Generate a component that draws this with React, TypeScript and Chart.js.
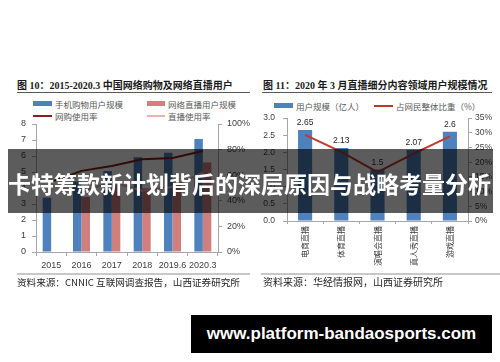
import React, { useEffect, useRef } from 'react';
import { Chart, registerables } from 'chart.js';

Chart.register(...registerables);

// ---------- Data: left chart ----------
const leftCategories = ['2015', '2016', '2017', '2018', '2019.6', '2020.3'];
const mobileShoppingUsers = [3.4, 4.41, 5.06, 5.92, 6.21, 7.07];
const liveStreamUsers = [null, 3.44, 4.22, 3.97, 4.33, 5.6];
const shoppingRate = [54.8, 63.4, 67.2, 72.5, 73.4, 78.9];
const liveRate = [null, 47.1, 54.7, 47.9, 50.7, 62.0];
const leftSeriesNames = ['手机购物用户规模', '网络直播用户规模', '网购使用率', '直播使用率'];

// ---------- Data: right chart ----------
const rightCategories = ['电商直播', '体育直播', '演唱会直播', '真人秀直播', '游戏直播'];
const rightUsers = [2.65, 2.13, 1.5, 2.07, 2.6];
const rightShare = [29.3, 23.5, 16.6, 22.9, 28.8];
const rightSeriesNames = ['用户规模（亿人）', '占网民整体比重（%）'];

// ---------- Texts ----------
const leftTitle = '图 10：2015-2020.3 中国网络购物及网络直播用户';
const rightTitle = '图 11：2020 年 3 月直播细分内容领域用户规模情况';
const leftSource = '资料来源：CNNIC 互联网调查报告，山西证券研究所';
const rightSource = '资料来源：华经情报网，山西证券研究所';
const bannerText = '卡特筹款新计划背后的深层原因与战略考量分析';
const urlText = 'www.platform-bandaosports.com';

const BLUE = '#4F81BD';
const RED_BAR = '#D07F7D';
const DARK_RED = '#8B1E1E';
const PINK = '#E8B4B2';
const LINE_RED = '#C0392F';
const AXIS = '#A6A6A6';
const TICK = '#404040';
const NUM_FONT = '"Liberation Sans", Arial, sans-serif';
const CJK_FONT = '"Noto Sans CJK SC", sans-serif';
const TITLE_FONT = '"Liberation Serif", "Noto Sans CJK SC", serif';

const barLabelPlugin = {
  id: 'barLabels',
  afterDatasetsDraw(chart: any) {
    const ctx = chart.ctx;
    const meta = chart.getDatasetMeta(0);
    const ds = chart.data.datasets[0];
    ctx.save();
    ctx.font = '8.5px ' + NUM_FONT;
    ctx.fillStyle = '#262626';
    ctx.textAlign = 'center';
    ctx.textBaseline = 'bottom';
    meta.data.forEach((el: any, i: number) => {
      ctx.fillText(String(ds.data[i]), el.x, el.y - 3);
    });
    ctx.restore();
  },
};

function axisGrid() {
  return { display: true, drawOnChartArea: false, drawTicks: true, tickLength: 4, color: AXIS };
}

function LeftChart() {
  const ref = useRef<HTMLCanvasElement>(null);
  useEffect(() => {
    const chart = new Chart(ref.current as HTMLCanvasElement, {
      type: 'bar',
      data: {
        labels: leftCategories,
        datasets: [
          { type: 'line', label: leftSeriesNames[2], data: shoppingRate, yAxisID: 'y1', borderColor: DARK_RED, borderWidth: 2, pointRadius: 0, order: 0, tension: 0 },
          { type: 'line', label: leftSeriesNames[3], data: liveRate as any, yAxisID: 'y1', borderColor: PINK, borderWidth: 2, pointRadius: 0, order: 0, tension: 0 },
          { type: 'bar', label: leftSeriesNames[0], data: mobileShoppingUsers, yAxisID: 'y', backgroundColor: BLUE, order: 1, barPercentage: 1, categoryPercentage: 0.56 },
          { type: 'bar', label: leftSeriesNames[1], data: liveStreamUsers as any, yAxisID: 'y', backgroundColor: RED_BAR, order: 1, barPercentage: 1, categoryPercentage: 0.56 },
        ] as any,
      },
      options: {
        animation: false,
        responsive: false,
        maintainAspectRatio: false,
        layout: { padding: { top: 14, left: 0, right: 0, bottom: 0 } },
        plugins: { legend: { display: false }, tooltip: { enabled: false } },
        scales: {
          x: {
            grid: { ...axisGrid(), offset: true },
            border: { color: AXIS },
            ticks: { font: { family: NUM_FONT, size: 9 }, color: TICK, padding: 4, maxRotation: 0, autoSkip: false },
            afterFit: (s: any) => { s.height = 28; },
          },
          y: {
            position: 'left', min: 0, max: 8,
            grid: axisGrid(),
            border: { color: AXIS },
            ticks: { stepSize: 1, font: { family: NUM_FONT, size: 9 }, color: TICK, padding: 6 },
            afterFit: (s: any) => { s.width = 36; },
          },
          y1: {
            position: 'right', min: 0, max: 100,
            grid: axisGrid(),
            border: { color: AXIS },
            ticks: { stepSize: 20, font: { family: NUM_FONT, size: 9 }, color: TICK, padding: 5, callback: (v: any) => v + '%' },
            afterFit: (s: any) => { s.width = 37; },
          },
        },
      } as any,
    });
    return () => chart.destroy();
  }, []);
  return <canvas ref={ref} width={255} height={170} style={{ position: 'absolute', left: 0, top: 110, width: 255, height: 170 }} />;
}

function RightChart() {
  const ref = useRef<HTMLCanvasElement>(null);
  useEffect(() => {
    const chart = new Chart(ref.current as HTMLCanvasElement, {
      type: 'bar',
      data: {
        labels: rightCategories,
        datasets: [
          { type: 'bar', label: rightSeriesNames[0], data: rightUsers, yAxisID: 'y', backgroundColor: BLUE, order: 1, barPercentage: 0.39, categoryPercentage: 1 },
          { type: 'line', label: rightSeriesNames[1], data: rightShare, yAxisID: 'y1', borderColor: LINE_RED, borderWidth: 2, pointRadius: 0, order: 0, tension: 0 },
        ] as any,
      },
      options: {
        animation: false,
        responsive: false,
        maintainAspectRatio: false,
        layout: { padding: { top: 13, left: 0, right: 0, bottom: 0 } },
        plugins: { legend: { display: false }, tooltip: { enabled: false } },
        scales: {
          x: {
            grid: { ...axisGrid(), tickLength: 3, offset: true },
            border: { color: AXIS },
            ticks: { font: { family: CJK_FONT, size: 8 }, color: TICK, padding: 2, minRotation: 90, maxRotation: 90, autoSkip: false },
            afterFit: (s: any) => { s.height = 59; },
          },
          y: {
            position: 'left', min: 0, max: 3,
            grid: axisGrid(),
            border: { color: AXIS },
            ticks: { stepSize: 0.5, font: { family: NUM_FONT, size: 8.5 }, color: TICK, padding: 8, callback: (v: any) => Number(v).toFixed(1) },
            afterFit: (s: any) => { s.width = 37; },
          },
          y1: {
            position: 'right', min: 0, max: 35,
            grid: axisGrid(),
            border: { color: AXIS },
            ticks: { stepSize: 5, font: { family: NUM_FONT, size: 8.5 }, color: TICK, padding: 3, callback: (v: any) => v + '%' },
            afterFit: (s: any) => { s.width = 32; },
          },
        },
      } as any,
      plugins: [barLabelPlugin],
    });
    return () => chart.destroy();
  }, []);
  return <canvas ref={ref} width={250} height={175} style={{ position: 'absolute', left: 250, top: 105, width: 250, height: 175 }} />;
}

function Txt(props: { x: number; cy: number; size: number; color?: string; weight?: number; family?: string; children: React.ReactNode }) {
  const h = Math.round(props.size * 1.6);
  return (
    <div
      style={{
        position: 'absolute', left: props.x, top: props.cy - h / 2, height: h, lineHeight: h + 'px',
        fontSize: props.size, color: props.color || '#333', fontWeight: props.weight || 400,
        fontFamily: props.family || CJK_FONT, whiteSpace: 'nowrap',
      }}
    >
      {props.children}
    </div>
  );
}

function Swatch(props: { x: number; cy: number; w: number; h: number; color: string }) {
  return <div style={{ position: 'absolute', left: props.x, top: props.cy - props.h / 2, width: props.w, height: props.h, background: props.color }} />;
}

function Rule(props: { x: number; y: number; w: number; h: number; color: string }) {
  return <div style={{ position: 'absolute', left: props.x, top: props.y, width: props.w, height: props.h, background: props.color }} />;
}

export default function App() {
  return (
    <div style={{ position: 'fixed', left: 0, top: 0, width: 500, height: 362, background: '#fff', overflow: 'hidden' }}>
      {/* Titles */}
      <Txt x={17} cy={86} size={10} weight={700} color="#1a1a1a" family={TITLE_FONT}>{leftTitle}</Txt>
      <Rule x={17} y={92} w={233} h={1} color="#595959" />
      <Txt x={263} cy={86} size={10} weight={700} color="#1a1a1a" family={TITLE_FONT}>{rightTitle}</Txt>
      <Rule x={262} y={92} w={230} h={1} color="#595959" />

      {/* Left legend */}
      <Swatch x={33} cy={103.5} w={19} h={5} color={BLUE} />
      <Txt x={55} cy={103.5} size={8.5} color="#595959">{leftSeriesNames[0]}</Txt>
      <Swatch x={147} cy={103.5} w={18} h={5} color={RED_BAR} />
      <Txt x={168} cy={103.5} size={8.5} color="#595959">{leftSeriesNames[1]}</Txt>
      <Swatch x={33} cy={115.5} w={19} h={2} color={DARK_RED} />
      <Txt x={55} cy={115.5} size={8.5} color="#595959">{leftSeriesNames[2]}</Txt>
      <Swatch x={147} cy={115.5} w={18} h={2} color={PINK} />
      <Txt x={168} cy={115.5} size={8.5} color="#595959">{leftSeriesNames[3]}</Txt>

      {/* Right legend */}
      <Swatch x={274} cy={105.5} w={19} h={5} color={BLUE} />
      <Txt x={296} cy={105.5} size={8.5} color="#595959">{rightSeriesNames[0]}</Txt>
      <Swatch x={374} cy={105.5} w={19} h={2} color={LINE_RED} />
      <Txt x={396} cy={105.5} size={8.5} color="#595959">{rightSeriesNames[1]}</Txt>

      <LeftChart />
      <RightChart />

      {/* Sources */}
      <Rule x={17} y={273} w={233} h={2} color="#C8C8C8" />
      <Txt x={17} cy={282} size={9.6} color="#262626">{leftSource}</Txt>
      <Rule x={261} y={273} w={239} h={2} color="#C8C8C8" />
      <Txt x={263} cy={282} size={10} color="#262626">{rightSource}</Txt>

      {/* Overlay banner */}
      <div
        style={{
          position: 'absolute', left: 8, top: 149, width: 485, height: 64, background: 'rgba(0,0,0,0.64)',
        }}
      />
      <div
        style={{
          position: 'absolute', left: 8, top: 166, height: 34, lineHeight: '34px', fontSize: 23, fontWeight: 700,
          color: '#fff', fontFamily: CJK_FONT, whiteSpace: 'nowrap',
        }}
      >
        {bannerText}
      </div>

      {/* URL box */}
      <div
        style={{
          position: 'absolute', left: 191, top: 315, width: 301, height: 38, background: '#000', color: '#fff',
          fontFamily: NUM_FONT, fontWeight: 700, fontSize: 17, lineHeight: '38px', textAlign: 'center', whiteSpace: 'nowrap',
        }}
      >
        {urlText}
      </div>
    </div>
  );
}
